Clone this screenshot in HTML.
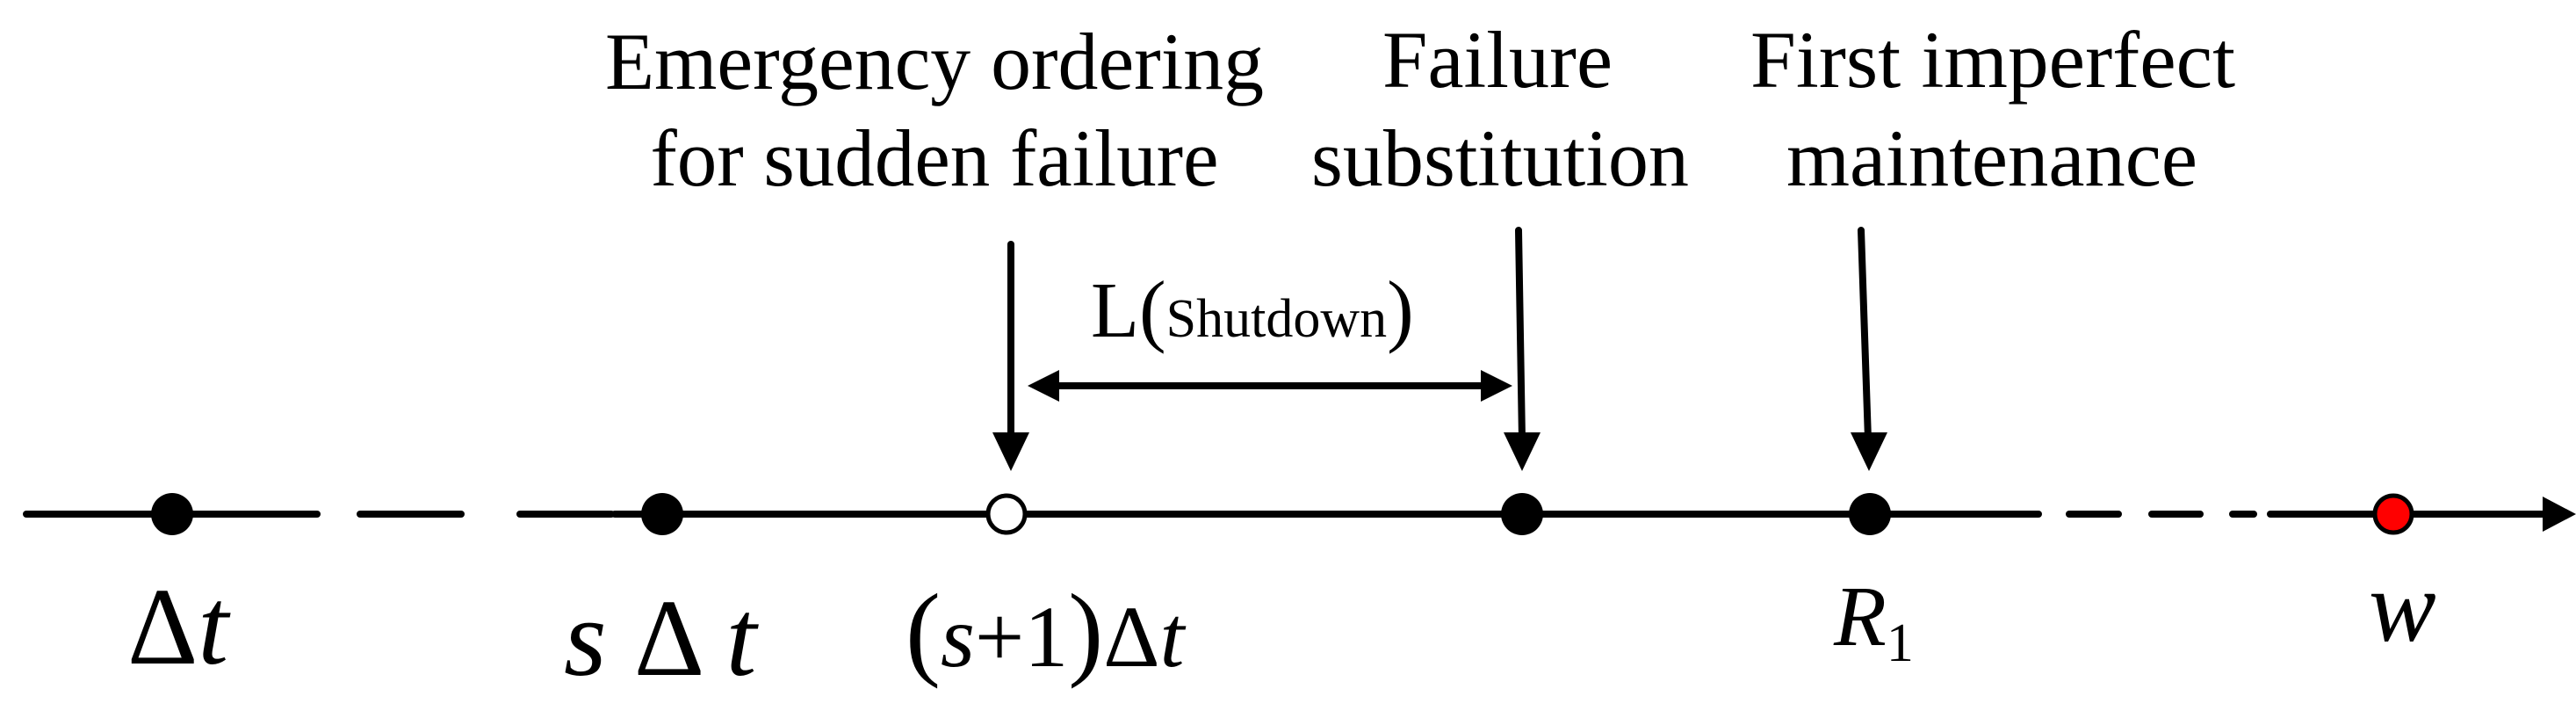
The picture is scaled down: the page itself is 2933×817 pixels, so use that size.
<!DOCTYPE html>
<html><head><meta charset="utf-8"><style>html,body{margin:0;padding:0;background:#fff}svg{display:block}</style></head>
<body>
<svg width="2933" height="817" viewBox="0 0 2933 817" xmlns="http://www.w3.org/2000/svg" font-family="'Liberation Serif', serif">
<g stroke="#000" stroke-width="8" stroke-linecap="round" fill="none">
<line x1="30" y1="585" x2="361" y2="585"/>
<line x1="410" y1="585" x2="525" y2="585"/>
<line x1="592" y1="585" x2="696" y2="585"/>
<line x1="700" y1="585" x2="2321" y2="585"/>
<line x1="2356" y1="585" x2="2412" y2="585"/>
<line x1="2450" y1="585" x2="2505" y2="585"/>
<line x1="2542" y1="585" x2="2566" y2="585"/>
<line x1="2585" y1="585" x2="2900" y2="585"/>
<line x1="1151" y1="278" x2="1151" y2="500"/>
<line x1="1729" y1="262" x2="1733" y2="500"/>
<line x1="2119" y1="262" x2="2127" y2="500"/>
<line x1="1200" y1="439" x2="1692" y2="439"/>
</g>
<g fill="#000">
<polygon points="2933,585 2895,565 2895,605"/>
<polygon points="1130,492 1172,492 1151,536"/>
<polygon points="1712,492 1754,492 1733,536"/>
<polygon points="2107,492 2149,492 2128,536"/>
<polygon points="1170,439 1206,421 1206,457"/>
<polygon points="1722,439 1686,421 1686,457"/>
<circle cx="196" cy="585" r="24"/>
<circle cx="754" cy="585" r="24"/>
<circle cx="1733" cy="585" r="24"/>
<circle cx="2129" cy="585" r="24"/>
</g>
<circle cx="1146" cy="585" r="21" fill="#fff" stroke="#000" stroke-width="5"/>
<circle cx="2725" cy="585" r="21" fill="#f00" stroke="#000" stroke-width="5"/>
<g font-size="92" fill="#000" text-anchor="middle">
<text x="1064" y="101" textLength="750" lengthAdjust="spacingAndGlyphs">Emergency ordering</text>
<text x="1064" y="211" textLength="647" lengthAdjust="spacingAndGlyphs">for sudden failure</text>
<text x="1705" y="99" textLength="262" lengthAdjust="spacingAndGlyphs">Failure</text>
<text x="1708" y="211" textLength="430" lengthAdjust="spacingAndGlyphs">substitution</text>
<text x="2269" y="99" textLength="552" lengthAdjust="spacingAndGlyphs">First imperfect</text>
<text x="2268" y="211" textLength="468" lengthAdjust="spacingAndGlyphs">maintenance</text>
</g>
<text x="1242" y="383" font-size="90">L<tspan font-size="92">(</tspan><tspan font-size="62">Shutdown</tspan><tspan font-size="92">)</tspan></text>
<text x="145" y="755" font-size="125">Δ<tspan font-style="italic">t</tspan></text>
<text x="642" y="768" font-size="125"><tspan font-style="italic">s</tspan> Δ <tspan font-style="italic">t</tspan></text>
<text x="1031" y="758" font-size="100"><tspan font-size="120">(</tspan><tspan font-style="italic">s</tspan>+1<tspan font-size="120">)</tspan>Δ<tspan font-style="italic">t</tspan></text>
<text x="2088" y="734" font-size="98" font-style="italic">R<tspan font-style="normal" font-size="62" dy="18">1</tspan></text>
<text x="2697" y="729" font-size="115" font-style="italic">w</text>
</svg>
</body></html>
